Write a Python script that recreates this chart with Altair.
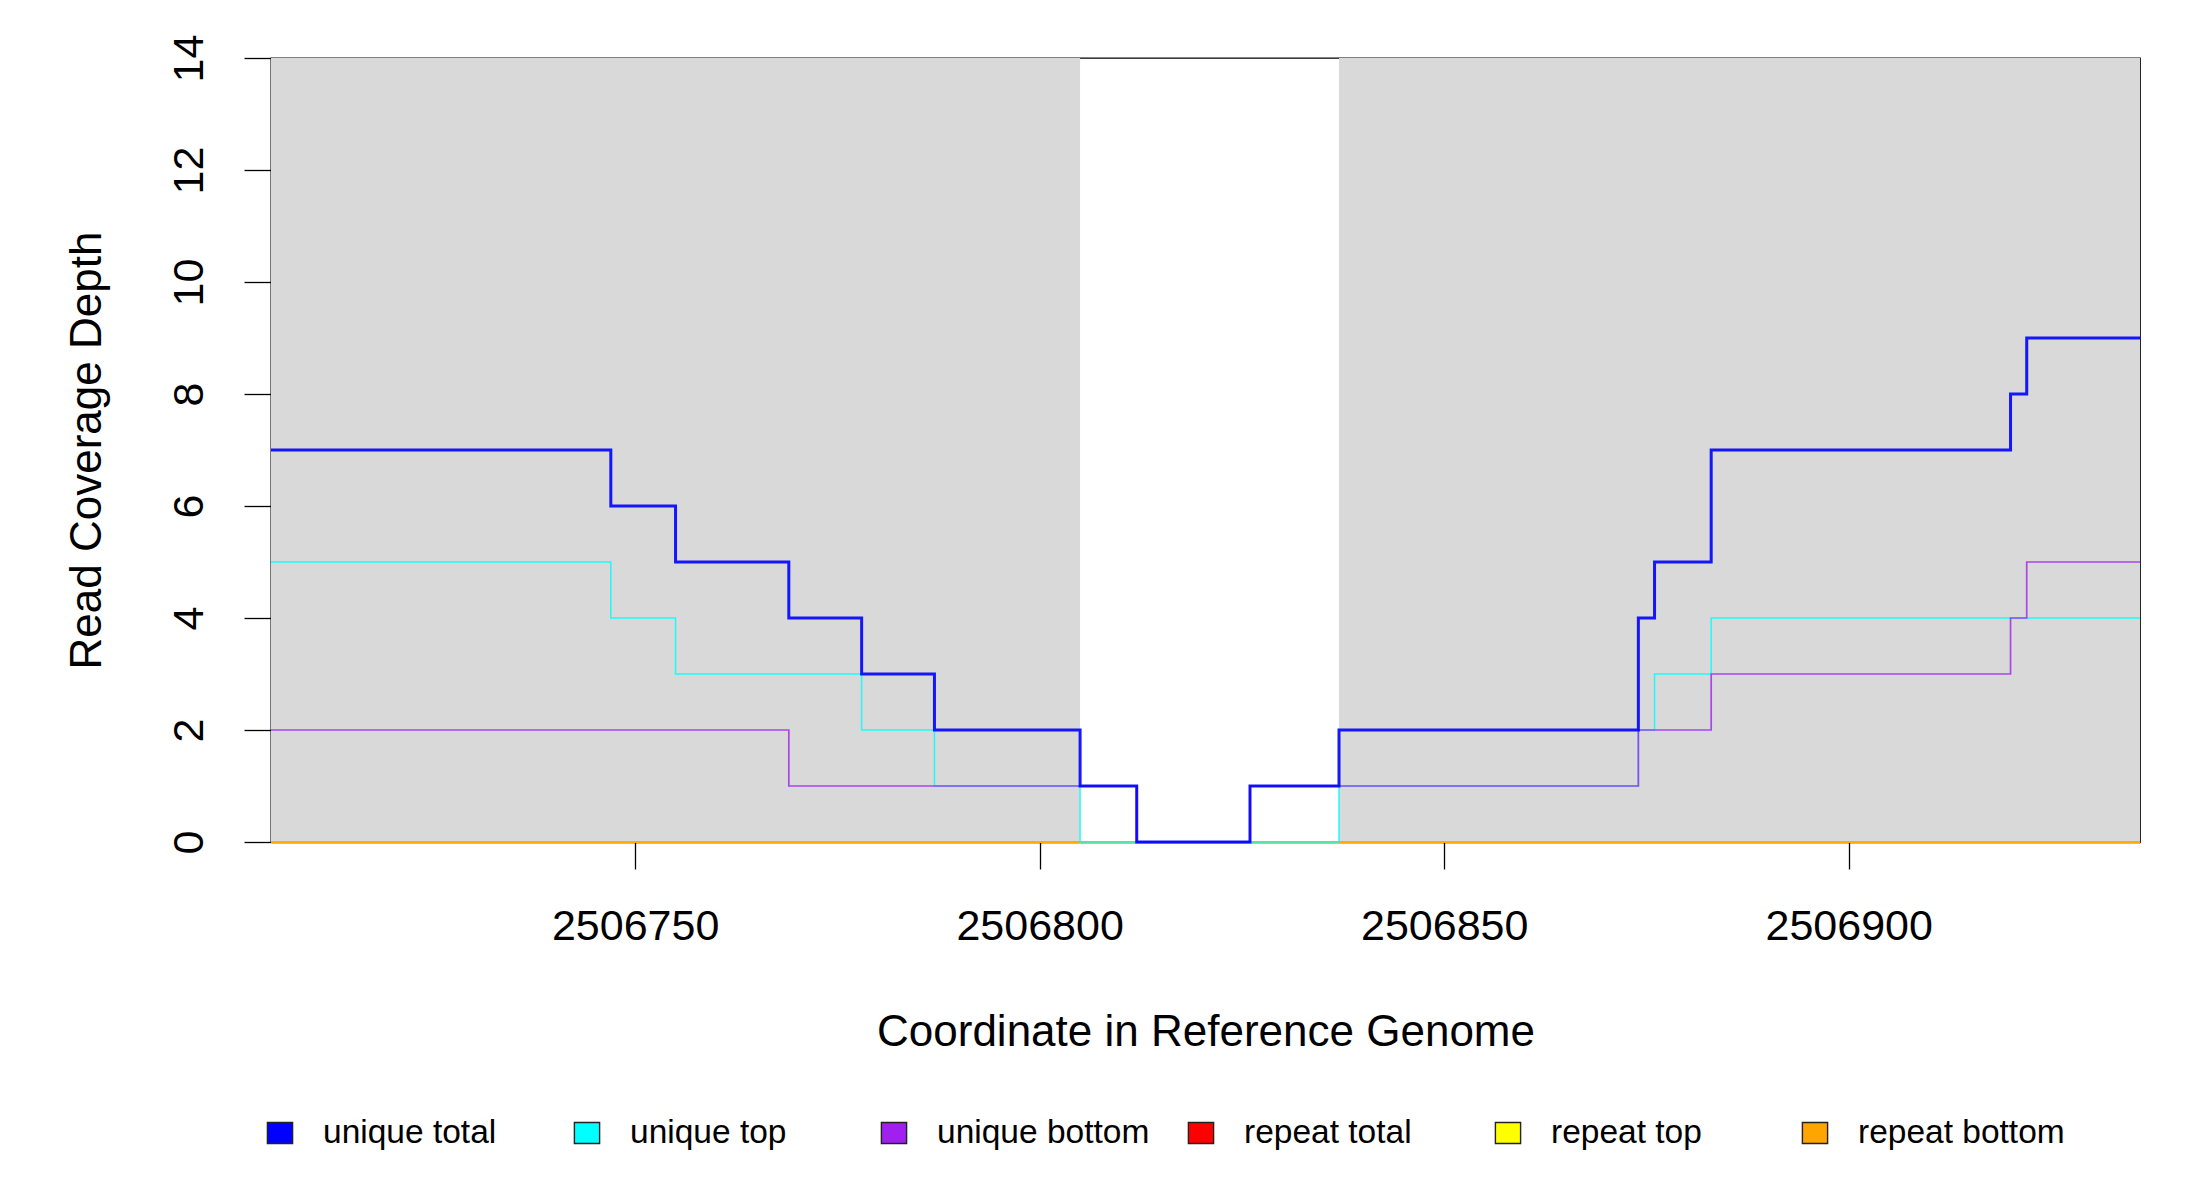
import altair as alt
import pandas as pd

# -----------------------------
# Data
# -----------------------------
X_START = 2506705
X_END = 2506936
X_TICKS = [2506750, 2506800, 2506850, 2506900]
Y_TICKS = [0, 2, 4, 6, 8, 10, 12, 14]

# shaded (grey) regions of the reference
SHADE_START = [2506705, 2506837]
SHADE_END = [2506805, 2506936]

# step series: value holds from x[i] until x[i + 1]
UNIQUE_TOTAL_X = [2506705, 2506747, 2506755, 2506769, 2506778, 2506787, 2506805, 2506812,
                  2506826, 2506837, 2506874, 2506876, 2506883, 2506920, 2506922, 2506936]
UNIQUE_TOTAL_Y = [7, 6, 5, 4, 3, 2, 1, 0, 1, 2, 4, 5, 7, 8, 9, 9]

UNIQUE_TOP_X = [2506705, 2506747, 2506755, 2506778, 2506787, 2506805, 2506837, 2506874,
                2506876, 2506883, 2506936]
UNIQUE_TOP_Y = [5, 4, 3, 2, 1, 0, 1, 2, 3, 4, 4]

UNIQUE_BOTTOM_X = [2506705, 2506769, 2506812, 2506826, 2506874, 2506883, 2506920, 2506922, 2506936]
UNIQUE_BOTTOM_Y = [2, 1, 0, 1, 2, 3, 4, 5, 5]

REPEAT_TOTAL_X = [2506705, 2506936]
REPEAT_TOTAL_Y = [0, 0]
REPEAT_TOP_X = [2506705, 2506936]
REPEAT_TOP_Y = [0, 0]
REPEAT_BOTTOM_X = [2506705, 2506936]
REPEAT_BOTTOM_Y = [0, 0]

SERIES = ["unique total", "unique top", "unique bottom", "repeat total", "repeat top", "repeat bottom"]
COLORS = ["#0000FF", "#00FFFF", "#A020F0", "#FF0000", "#FFFF00", "#FFA500"]

# -----------------------------
# Styling
# -----------------------------
FONT = "Liberation Sans"
PLOT_W = 1869
PLOT_H = 784
AXIS_FS = 43
TITLE_FS = 44
LEGEND_FS = 33.5
LINE_BLACK = "#000000"

x_scale = alt.Scale(domain=[X_START, X_END], nice=False, zero=False)
y_scale = alt.Scale(domain=[0, 14], nice=False, zero=True)

x_axis = alt.Axis(
    values=X_TICKS, format="d", grid=False, title="Coordinate in Reference Genome",
    tickSize=27, tickWidth=1.3, tickColor=LINE_BLACK, domainColor=LINE_BLACK, domainWidth=1.3,
    labelFontSize=AXIS_FS, labelColor="black", labelBaseline="alphabetic", labelPadding=70,
    labelFlush=False, labelOverlap=False,
    titleFontSize=TITLE_FS, titleFontWeight="normal", titleColor="black",
    titleX=PLOT_W / 2, titleY=203, titleAlign="center", titleBaseline="alphabetic",
)
y_axis = alt.Axis(
    values=Y_TICKS, format="d", grid=False, title="Read Coverage Depth",
    tickSize=27, tickWidth=1.3, tickColor=LINE_BLACK, domainColor=LINE_BLACK, domainWidth=1.3,
    labelFontSize=AXIS_FS, labelColor="black", labelAngle=270, labelAlign="center",
    labelBaseline="alphabetic", labelPadding=42, labelFlush=False, labelOverlap=False,
    titleFontSize=TITLE_FS, titleFontWeight="normal", titleColor="black",
    titleAngle=270, titleX=-184, titleY=PLOT_H / 2, titleAlign="center", titleBaseline="middle",
)

# -----------------------------
# Layers
# -----------------------------
shade_df = pd.DataFrame({"start": SHADE_START, "end": SHADE_END})
shade = (
    alt.Chart(shade_df)
    .mark_rect(color="#D9D9D9")
    .encode(
        x=alt.X("start:Q", scale=x_scale, axis=x_axis),
        x2="end:Q",
        y=alt.Y(datum=14, scale=y_scale, axis=y_axis),
        y2=alt.datum(0),
    )
)


def step_layer(xs, ys, color, width, opacity=1.0):
    df = pd.DataFrame({"pos": xs, "depth": ys})
    return (
        alt.Chart(df)
        .mark_line(interpolate="step-after", color=color, strokeWidth=width, opacity=opacity)
        .encode(
            x=alt.X("pos:Q", scale=x_scale),
            y=alt.Y("depth:Q", scale=y_scale),
            order="pos:Q",
        )
    )


lines = [
    step_layer(REPEAT_TOTAL_X, REPEAT_TOTAL_Y, COLORS[3], 1.5),
    step_layer(REPEAT_TOP_X, REPEAT_TOP_Y, COLORS[4], 1.5),
    step_layer(REPEAT_BOTTOM_X, REPEAT_BOTTOM_Y, COLORS[5], 1.5),
    step_layer(UNIQUE_TOP_X, UNIQUE_TOP_Y, COLORS[1], 1.5, 0.85),
    step_layer(UNIQUE_BOTTOM_X, UNIQUE_BOTTOM_Y, COLORS[2], 1.7, 0.8),
    step_layer(UNIQUE_TOTAL_X, UNIQUE_TOTAL_Y, COLORS[0], 3, 0.9),
]

main = alt.layer(shade, *lines)

# horizontal legend under the plot, evenly spaced like R's legend(horiz=TRUE)
legend_df = pd.DataFrame({"series": SERIES})
legend_x = alt.X(
    "series:N", sort=SERIES, axis=None,
    scale=alt.Scale(type="point", range=[9, 1544], padding=0),
)
legend_color = alt.Color("series:N", scale=alt.Scale(domain=SERIES, range=COLORS), legend=None)
BOX_PATH = "M-1.2,-1L1.2,-1L1.2,1L-1.2,1Z"

legend_boxes = (
    alt.Chart(legend_df)
    .mark_point(shape=BOX_PATH, size=441, filled=True, opacity=1, stroke="#222222", strokeWidth=1.4)
    .encode(x=legend_x, y=alt.value(1075), fill=legend_color)
)
legend_text = (
    alt.Chart(legend_df)
    .mark_text(align="left", baseline="middle", dx=43, fontSize=LEGEND_FS, color="black")
    .encode(x=legend_x, y=alt.value(1075), text="series:N")
)

chart = (
    alt.layer(main, legend_boxes, legend_text)
    .resolve_scale(x="independent")
    .properties(
        width=PLOT_W,
        height=PLOT_H,
        autosize=alt.AutoSizeParams(type="none"),
        padding={"left": 263, "top": 50, "right": 30, "bottom": 330},
    )
    .configure(font=FONT)
    .configure_view(stroke="black", strokeWidth=1.3)
)

chart.save("out.html", embed_options={"renderer": "svg", "actions": False})
